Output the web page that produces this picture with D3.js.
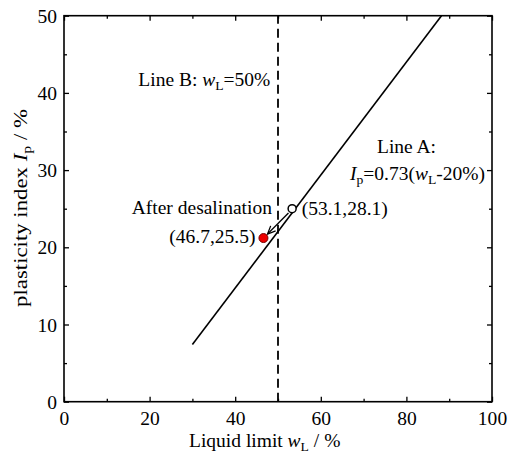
<!DOCTYPE html>
<html><head><meta charset="utf-8">
<script src="https://cdn.jsdelivr.net/npm/d3@7"></script>
<style>
body{margin:0;background:#fff}
text{font-family:"Liberation Serif","Times New Roman",serif;fill:#000}
</style>
</head><body>
<svg id="chart" width="509" height="453"></svg>
<script>
// ---- data ----
const xMajorTicks = [0, 20, 40, 60, 80, 100];
const xMinorTicks = [10, 30, 50, 70, 90];
const yMajorTicks = [0, 10, 20, 30, 40, 50];
const yMinorTicks = [5, 15, 25, 35, 45];
const lineA = [[30, 7.4], [88.2, 50]];          // Line A endpoints (wL, Ip)
const lineB = [[50, 0], [50, 50]];              // Line B: wL = 50%
const pointBefore = [53.3, 25.0];               // open circle
const pointAfter = [46.6, 21.2];                // red point after desalination
const arrowPath = [[52.45, 24.44], [47.55, 21.72]];
const labelBefore = "(53.1,28.1)";
const labelAfter = "(46.7,25.5)";

// ---- layout ----
const svg = d3.select("#chart");
const L = 64, R = 492, T = 15.7, B = 401.7;
const x = d3.scaleLinear().domain([0, 100]).range([L, R]);
const y = d3.scaleLinear().domain([0, 50]).range([B, T]);
const FS = 18.5, SX = 1.055;

// frame
svg.append("rect").attr("x", L).attr("y", T).attr("width", R - L).attr("height", B - T)
  .attr("fill", "none").attr("stroke", "#000").attr("stroke-width", 1.6);

function styleAxis(g) {
  g.select(".domain").remove();
  g.selectAll(".tick line").attr("stroke", "#000").attr("stroke-width", 1.3);
}
// bottom major with labels
const gxb = svg.append("g").attr("transform", `translate(0,${B})`)
  .call(d3.axisBottom(x).tickValues(xMajorTicks).tickSize(-5).tickPadding(0).tickFormat(d3.format("d")));
styleAxis(gxb);
gxb.selectAll(".tick text").attr("y", 23.5).attr("dy", null)
  .attr("font-size", FS).attr("font-family", "Liberation Serif")
  .attr("transform", `scale(${SX},1)`);
svg.append("g").attr("transform", `translate(0,${B})`)
  .call(d3.axisBottom(x).tickValues(xMinorTicks).tickSize(-3).tickFormat("")).call(styleAxis);
// top
svg.append("g").attr("transform", `translate(0,${T})`)
  .call(d3.axisTop(x).tickValues(xMajorTicks).tickSize(-5).tickFormat("")).call(styleAxis);
svg.append("g").attr("transform", `translate(0,${T})`)
  .call(d3.axisTop(x).tickValues(xMinorTicks).tickSize(-3).tickFormat("")).call(styleAxis);
// left
const gyl = svg.append("g").attr("transform", `translate(${L},0)`)
  .call(d3.axisLeft(y).tickValues(yMajorTicks).tickSize(-5).tickPadding(0).tickFormat(d3.format("d")));
styleAxis(gyl);
gyl.selectAll(".tick text").attr("x", -7 / SX).attr("dy", null).attr("y", 6.5)
  .attr("font-size", FS).attr("font-family", "Liberation Serif")
  .attr("transform", `scale(${SX},1)`);
svg.append("g").attr("transform", `translate(${L},0)`)
  .call(d3.axisLeft(y).tickValues(yMinorTicks).tickSize(-3).tickFormat("")).call(styleAxis);
// right
svg.append("g").attr("transform", `translate(${R},0)`)
  .call(d3.axisRight(y).tickValues(yMajorTicks).tickSize(-5).tickFormat("")).call(styleAxis);
svg.append("g").attr("transform", `translate(${R},0)`)
  .call(d3.axisRight(y).tickValues(yMinorTicks).tickSize(-3).tickFormat("")).call(styleAxis);

const line = d3.line().x(d => x(d[0])).y(d => y(d[1]));
// Line B dashed
svg.append("path").attr("d", line(lineB)).attr("fill", "none")
  .attr("stroke", "#000").attr("stroke-width", 1.8).attr("stroke-dasharray", "9,5");
// Line A
svg.append("path").attr("d", line(lineA)).attr("fill", "none")
  .attr("stroke", "#000").attr("stroke-width", 1.6);

// arrow
svg.append("defs").append("marker").attr("id", "arr")
  .attr("viewBox", "-10 -6 12 12").attr("refX", 0).attr("refY", 0)
  .attr("markerWidth", 12).attr("markerHeight", 12).attr("markerUnits", "userSpaceOnUse")
  .attr("orient", "auto")
  .append("path").attr("d", "M-8,-3.5 L0,0 L-8,3.5").attr("fill", "none")
  .attr("stroke", "#000").attr("stroke-width", 1.3);
svg.append("path").attr("d", line(arrowPath)).attr("fill", "none")
  .attr("stroke", "#000").attr("stroke-width", 1.3).attr("marker-end", "url(#arr)");

// points
svg.append("circle").attr("cx", x(pointBefore[0])).attr("cy", y(pointBefore[1])).attr("r", 4)
  .attr("fill", "#fff").attr("stroke", "#000").attr("stroke-width", 1.5);
svg.append("circle").attr("cx", x(pointAfter[0])).attr("cy", y(pointAfter[1])).attr("r", 4.5)
  .attr("fill", "#ee0000").attr("stroke", "#700").attr("stroke-width", 1);

// text helper: parts = [[text, style]] style: "n" normal, "i" italic, "s" subscript
function addText(px, py, parts, opts = {}) {
  const fs = opts.fs || FS, sx = opts.sx || SX;
  const t = svg.append("text")
    .attr("transform", opts.transform || `translate(${px},${py}) scale(${sx},1)`)
    .attr("font-size", fs).attr("text-anchor", opts.anchor || "start");
  let sub = false;
  parts.forEach(([s, st]) => {
    const ts = t.append("tspan").text(s);
    if (st === "i") ts.attr("font-style", "italic");
    if (st === "s") { ts.attr("font-size", fs * 0.7); if (!sub) ts.attr("dy", fs * 0.22); sub = true; }
    else if (sub) { ts.attr("dy", -fs * 0.22); sub = false; }
  });
  return t;
}

addText(138.3, 86, [["Line B: ", "n"], ["w", "i"], ["L", "s"], ["=50%", "n"]]);
addText(377, 153, [["Line A:", "n"]]);
addText(350, 180, [["I", "i"], ["p", "s"], ["=0.73(", "n"], ["w", "i"], ["L", "s"], ["-20%)", "n"]]);
addText(131.7, 214, [["After desalination", "n"]]);
addText(301.7, 215, [[labelBefore, "n"]]);
addText(169.3, 242.7, [[labelAfter, "n"]]);

// axis titles
addText(189, 446.5, [["Liquid limit ", "n"], ["w", "i"], ["L", "s"], [" / %", "n"]]);
addText(0, 0, [["plasticity index ", "n"], ["I", "i"], ["p", "s"], ["  / %", "n"]],
  { anchor: "middle", fs: 19, transform: "translate(27,208) rotate(-90) scale(1.2,1)" });
</script>
</body></html>
